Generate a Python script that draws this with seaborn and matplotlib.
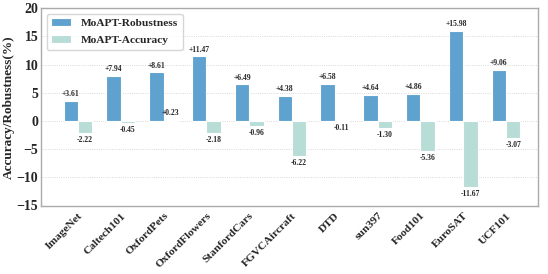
import pandas as pd
import seaborn as sns
import matplotlib.pyplot as plt

datasets = ["ImageNet", "Caltech101", "OxfordPets", "OxfordFlowers", "StanfordCars",
            "FGVCAircraft", "DTD", "sun397", "Food101", "EuroSAT", "UCF101"]
robustness = [3.61, 7.94, 8.61, 11.47, 6.49, 4.38, 6.58, 4.64, 4.86, 15.98, 9.06]
accuracy = [-2.22, -0.45, 0.23, -2.18, -0.96, -6.22, -0.11, -1.30, -5.36, -11.67, -3.07]

series = ["MoAPT-Robustness", "MoAPT-Accuracy"]
colors = ["#5fa2cf", "#b8ddd6"]

df = pd.DataFrame({
    "Dataset": datasets * 2,
    "Metric": [series[0]] * len(datasets) + [series[1]] * len(datasets),
    "Value": robustness + accuracy,
})

sns.set_style("whitegrid")
plt.rcParams["font.family"] = ["Liberation Serif", "DejaVu Serif"]
plt.rcParams["font.weight"] = "bold"

fig, ax = plt.subplots(figsize=(5.48, 2.74), dpi=100)
sns.barplot(data=df, x="Dataset", y="Value", hue="Metric", palette=colors, saturation=1,
            width=0.67, edgecolor="white", linewidth=0.8, ax=ax)

for cont in ax.containers:
    vals = [b.get_height() for b in cont]
    labels = [f"{v:+.2f}" if v > 0 else f"{v:.2f}" for v in vals]
    ax.bar_label(cont, labels=labels, fontsize=5.5, fontweight="bold", padding=2)

ax.set_ylim(-15, 20)
ax.set_xlim(-0.86, 10.75)
ax.set_yticks([-15, -10, -5, 0, 5, 10, 15, 20])
ax.set_xlabel("")
ax.set_ylabel("Accuracy/Robustness(%)", fontsize=9.5, fontweight="bold", labelpad=1)
ax.tick_params(axis="y", labelsize=10, length=0, pad=2)
ax.tick_params(axis="x", labelsize=8.2, length=3, color="#888888", pad=1)
plt.setp(ax.get_xticklabels(), rotation=45, ha="right", rotation_mode="anchor", fontweight="bold")
plt.setp(ax.get_yticklabels(), fontweight="bold")
ax.grid(axis="y", linestyle=":", color="#cccccc", linewidth=0.6)
ax.grid(axis="x", visible=False)
for s in ax.spines.values():
    s.set_color("#aaaaaa")
    s.set_linewidth(1.0)

leg = ax.legend(loc="upper left", frameon=True, prop={"weight": "bold", "size": 8.2},
                handlelength=1.7, handletextpad=0.9, labelspacing=0.6, borderaxespad=0.5)
leg.get_frame().set_edgecolor("#cccccc")

plt.subplots_adjust(left=0.075, right=0.982, top=0.97, bottom=0.25)
plt.savefig("out.png", dpi=100)
plt.close()
